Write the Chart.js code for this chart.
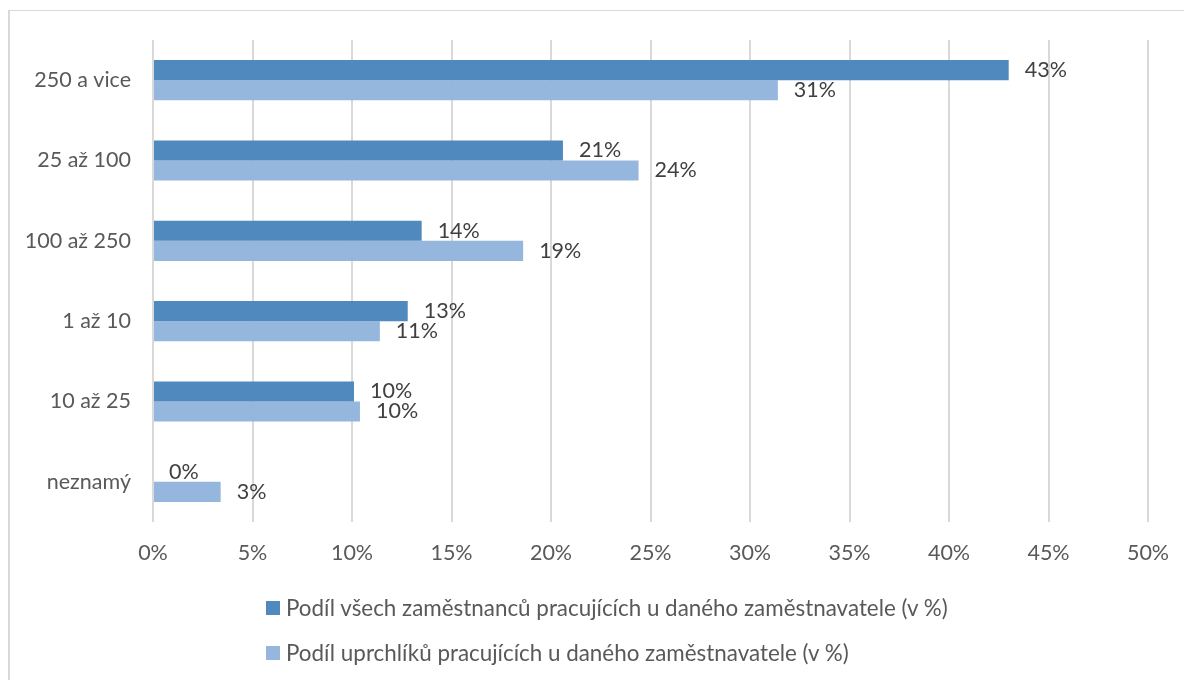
<!DOCTYPE html>
<html>
<head>
<meta charset="utf-8">
<script src="https://cdn.jsdelivr.net/npm/chart.js@4/dist/chart.umd.min.js"></script>
<style>
  html, body { margin: 0; padding: 0; background: #fff; }
  #wrap { position: relative; width: 1184px; height: 680px; overflow: hidden; font-family: Lato, "Open Sans", sans-serif; }
  #frame { position: absolute; left: 8px; top: 10px; width: 1200px; height: 700px;
           border-left: 2px solid #d9d9d9; border-top: 1px solid #d9d9d9; }
  #salesChart { position: absolute; left: 0; top: 0; }
  #legend { position: absolute; left: 266px; top: 591px; font-size: 22.4px; color: #595959; }
  #legend div { height: 45px; display: flex; align-items: flex-start; }
  #legend span.box { display: inline-block; width: 14px; height: 14px; margin: 10px 6px 0 0; }
  #legend span.txt { line-height: 34px; }
</style>
</head>
<body>
<div id="wrap">
  <div id="frame"></div>
  <canvas id="salesChart" width="1184" height="680"></canvas>
  <div id="legend"></div>
</div>
<script>
const kategorie = ['250 a vice', '25 až 100', '100 až 250', '1 až 10', '10 až 25', 'neznamý'];
const zamestnanci = [43.0, 20.6, 13.5, 12.8, 10.1, 0.0];
const uprchlici = [31.4, 24.4, 18.6, 11.4, 10.4, 3.4];
const nazvySerii = [
  'Podíl všech zaměstnanců pracujících u daného zaměstnavatele (v %)',
  'Podíl uprchlíků pracujících u daného zaměstnavatele (v %)'
];
const barvy = ['#4f89bd', '#95b7de'];

const fontFamily = 'Lato, "Open Sans", sans-serif';

// popisky hodnot vpravo od sloupců
const popisky = {
  id: 'popisky',
  afterDatasetsDraw(chart) {
    const ctx = chart.ctx;
    ctx.save();
    ctx.font = '21.5px ' + fontFamily;
    ctx.fillStyle = '#404040';
    ctx.textAlign = 'left';
    ctx.textBaseline = 'middle';
    chart.data.datasets.forEach((ds, i) => {
      chart.getDatasetMeta(i).data.forEach((bar, j) => {
        ctx.fillText(Math.round(ds.data[j]) + '%', bar.x + 16, bar.y);
      });
    });
    ctx.restore();
  }
};

const ctx = document.getElementById('salesChart').getContext('2d');
const chart = new Chart(ctx, {
  type: 'bar',
  data: {
    labels: kategorie,
    datasets: [
      { label: nazvySerii[0], data: zamestnanci, backgroundColor: barvy[0] },
      { label: nazvySerii[1], data: uprchlici, backgroundColor: barvy[1] }
    ]
  },
  options: {
    indexAxis: 'y',
    responsive: false,
    animation: false,
    devicePixelRatio: 1,
    categoryPercentage: 0.5,
    barPercentage: 1.0,
    layout: { padding: { top: 40, right: 36, bottom: 0, left: 0 } },
    plugins: {
      legend: { display: false },
      tooltip: { enabled: false }
    },
    scales: {
      x: {
        min: 0,
        max: 50,
        ticks: {
          stepSize: 5,
          callback: v => v + '%',
          color: '#595959',
          font: { family: fontFamily, size: 21.5 },
          padding: 18
        },
        grid: { color: '#d9d9d9', lineWidth: 2, drawTicks: false },
        border: { display: false },
        afterFit: s => { s.height = 158; s.paddingLeft = 0; s.paddingRight = 0; }
      },
      y: {
        ticks: {
          color: '#595959',
          font: { family: fontFamily, size: 21.5 },
          padding: 22
        },
        grid: { display: false, drawTicks: false },
        border: { display: false },
        afterFit: s => { s.width = 153; }
      }
    }
  },
  plugins: [popisky]
});

// legenda pod grafem (dva řádky zarovnané vlevo)
const legend = document.getElementById('legend');
chart.data.datasets.forEach(ds => {
  const row = document.createElement('div');
  row.innerHTML = '<span class="box" style="background:' + ds.backgroundColor + '"></span><span class="txt"></span>';
  row.querySelector('.txt').textContent = ds.label;
  legend.appendChild(row);
});
</script>
</body>
</html>
